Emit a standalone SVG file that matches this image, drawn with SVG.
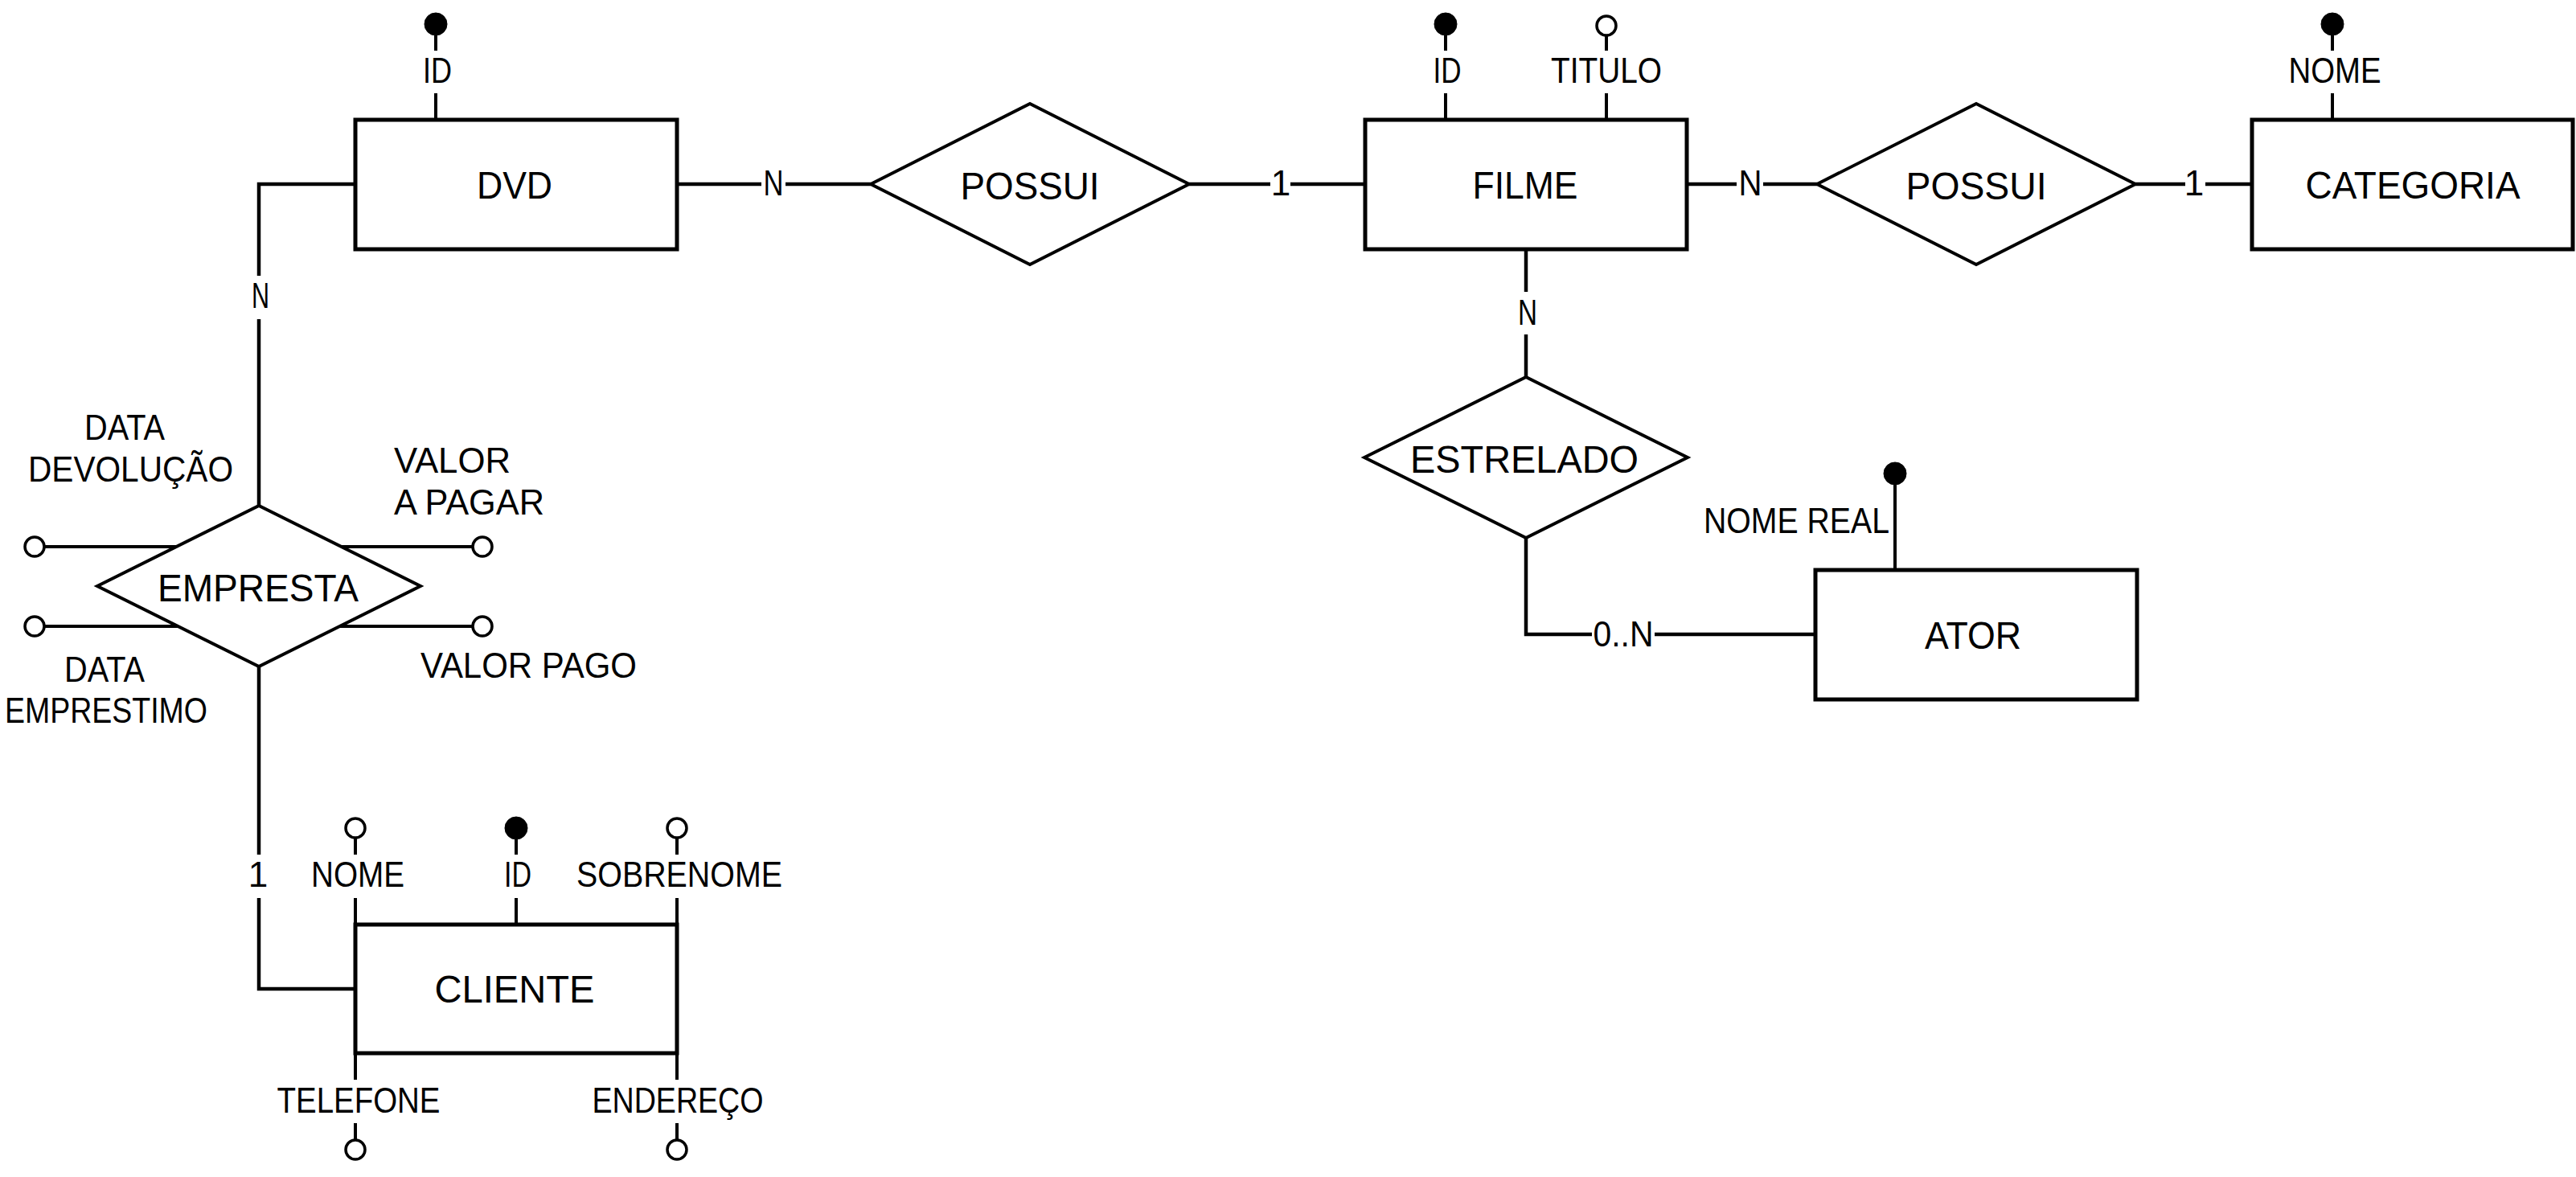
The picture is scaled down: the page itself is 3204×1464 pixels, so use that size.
<svg xmlns="http://www.w3.org/2000/svg" width="3204" height="1464" viewBox="0 0 3204 1464">
<style>
  .bg{fill:#fff}
  .ent{fill:#fff;stroke:#000;stroke-width:5}
  .rel{fill:#fff;stroke:#000;stroke-width:4;stroke-linejoin:miter}
  .con{fill:none;stroke:#000;stroke-width:4.5}
  .att{fill:none;stroke:#000;stroke-width:4}
  .key{fill:#000;stroke:#000;stroke-width:1}
  .opt{fill:#fff;stroke:#000;stroke-width:3.5}
  text{font-family:"Liberation Sans",Arial,sans-serif;fill:#000}
  .big{font-size:48px}
  .sm{font-size:44px}
</style>
<rect class="bg" x="0" y="0" width="3204" height="1464"/>

<g id="connectors">
  <line class="con" x1="842" y1="229" x2="947" y2="229"/>
  <line class="con" x1="977" y1="229" x2="1083" y2="229"/>
  <line class="con" x1="1479" y1="229" x2="1580" y2="229"/>
  <line class="con" x1="1605" y1="229" x2="1698" y2="229"/>
  <line class="con" x1="2098" y1="229" x2="2160" y2="229"/>
  <line class="con" x1="2193" y1="229" x2="2260" y2="229"/>
  <line class="con" x1="2656" y1="229" x2="2718" y2="229"/>
  <line class="con" x1="2743" y1="229" x2="2801" y2="229"/>
  <line class="con" x1="1898" y1="310" x2="1898" y2="363"/>
  <line class="con" x1="1898" y1="416" x2="1898" y2="469"/>
  <polyline class="con" points="1898,669 1898,789 1980,789"/>
  <line class="con" x1="2058" y1="789" x2="2258" y2="789"/>
  <polyline class="con" points="442,229 322,229 322,343"/>
  <line class="con" x1="322" y1="397" x2="322" y2="629"/>
  <line class="con" x1="322" y1="829" x2="322" y2="1063"/>
  <polyline class="con" points="322,1117 322,1230 442,1230"/>
  <text class="sm" x="962" y="243" text-anchor="middle" textLength="25" lengthAdjust="spacingAndGlyphs">N</text>
  <text class="sm" x="1593" y="243" text-anchor="middle">1</text>
  <text class="sm" x="2177" y="243" text-anchor="middle" textLength="29" lengthAdjust="spacingAndGlyphs">N</text>
  <text class="sm" x="2729" y="243" text-anchor="middle">1</text>
  <text class="sm" x="1900" y="404" text-anchor="middle" textLength="24" lengthAdjust="spacingAndGlyphs">N</text>
  <text class="sm" x="2019" y="804" text-anchor="middle" textLength="75" lengthAdjust="spacingAndGlyphs">0..N</text>
  <text class="sm" x="324" y="383" text-anchor="middle" textLength="22" lengthAdjust="spacingAndGlyphs">N</text>
  <text class="sm" x="321" y="1103" text-anchor="middle">1</text>
</g>

<g id="dvd">
  <rect class="ent" x="442" y="149" width="400" height="161"/>
  <text class="big" x="640" y="247" text-anchor="middle" textLength="94" lengthAdjust="spacingAndGlyphs">DVD</text>
  <line class="att" x1="542" y1="44" x2="542" y2="63"/>
  <line class="att" x1="542" y1="116" x2="542" y2="149"/>
  <circle class="key" cx="542" cy="30" r="14"/>
  <text class="sm" x="544" y="103" text-anchor="middle" textLength="36" lengthAdjust="spacingAndGlyphs">ID</text>
</g>

<g id="possui1">
  <polygon class="rel" points="1083,229 1281,129 1479,229 1281,329"/>
  <text class="big" x="1281" y="248" text-anchor="middle" textLength="173" lengthAdjust="spacingAndGlyphs">POSSUI</text>
</g>

<g id="filme">
  <rect class="ent" x="1698" y="149" width="400" height="161"/>
  <text class="big" x="1897" y="247" text-anchor="middle" textLength="131" lengthAdjust="spacingAndGlyphs">FILME</text>
  <line class="att" x1="1798" y1="44" x2="1798" y2="63"/>
  <line class="att" x1="1798" y1="116" x2="1798" y2="149"/>
  <circle class="key" cx="1798" cy="30" r="14"/>
  <text class="sm" x="1800" y="103" text-anchor="middle" textLength="35" lengthAdjust="spacingAndGlyphs">ID</text>
  <line class="att" x1="1998" y1="45" x2="1998" y2="63"/>
  <line class="att" x1="1998" y1="116" x2="1998" y2="149"/>
  <circle class="opt" cx="1998" cy="32" r="12"/>
  <text class="sm" x="1998" y="103" text-anchor="middle" textLength="138" lengthAdjust="spacingAndGlyphs">TITULO</text>
</g>

<g id="possui2">
  <polygon class="rel" points="2260,229 2458,129 2656,229 2458,329"/>
  <text class="big" x="2458" y="248" text-anchor="middle" textLength="175" lengthAdjust="spacingAndGlyphs">POSSUI</text>
</g>

<g id="categoria">
  <rect class="ent" x="2801" y="149" width="399" height="161"/>
  <text class="big" x="3001" y="247" text-anchor="middle" textLength="267" lengthAdjust="spacingAndGlyphs">CATEGORIA</text>
  <line class="att" x1="2901" y1="44" x2="2901" y2="63"/>
  <line class="att" x1="2901" y1="116" x2="2901" y2="149"/>
  <circle class="key" cx="2901" cy="30" r="14"/>
  <text class="sm" x="2904" y="103" text-anchor="middle" textLength="115" lengthAdjust="spacingAndGlyphs">NOME</text>
</g>

<g id="estrelado">
  <polygon class="rel" points="1697,569 1898,469 2099,569 1898,669"/>
  <text class="big" x="1896" y="588" text-anchor="middle" textLength="284" lengthAdjust="spacingAndGlyphs">ESTRELADO</text>
</g>

<g id="ator">
  <rect class="ent" x="2258" y="709" width="400" height="161"/>
  <text class="big" x="2454" y="807" text-anchor="middle" textLength="120" lengthAdjust="spacingAndGlyphs">ATOR</text>
  <line class="att" x1="2357" y1="603" x2="2357" y2="709"/>
  <circle class="key" cx="2357" cy="589" r="14"/>
  <text class="sm" x="2119" y="663" textLength="231" lengthAdjust="spacingAndGlyphs">NOME REAL</text>
</g>

<g id="empresta">
  <line class="att" x1="55" y1="680" x2="220" y2="680"/>
  <line class="att" x1="424" y1="680" x2="588" y2="680"/>
  <line class="att" x1="55" y1="779" x2="222" y2="779"/>
  <line class="att" x1="422" y1="779" x2="588" y2="779"/>
  <polygon class="rel" points="121,729 322,629 523,729 322,829"/>
  <text class="big" x="321" y="748" text-anchor="middle" textLength="250" lengthAdjust="spacingAndGlyphs">EMPRESTA</text>
  <circle class="opt" cx="43" cy="680" r="12"/>
  <circle class="opt" cx="600" cy="680" r="12"/>
  <circle class="opt" cx="43" cy="779" r="12"/>
  <circle class="opt" cx="600" cy="779" r="12"/>
  <text class="sm" x="105" y="547" textLength="100" lengthAdjust="spacingAndGlyphs">DATA</text>
  <text class="sm" x="35" y="599" textLength="255" lengthAdjust="spacingAndGlyphs">DEVOLUÇÃO</text>
  <text class="sm" x="490" y="588" textLength="145" lengthAdjust="spacingAndGlyphs">VALOR</text>
  <text class="sm" x="490" y="640" textLength="187" lengthAdjust="spacingAndGlyphs">A PAGAR</text>
  <text class="sm" x="80" y="848" textLength="100" lengthAdjust="spacingAndGlyphs">DATA</text>
  <text class="sm" x="6" y="899" textLength="252" lengthAdjust="spacingAndGlyphs">EMPRESTIMO</text>
  <text class="sm" x="523" y="843" textLength="269" lengthAdjust="spacingAndGlyphs">VALOR PAGO</text>
</g>

<g id="cliente">
  <rect class="ent" x="442" y="1150" width="400" height="160"/>
  <text class="big" x="640" y="1247" text-anchor="middle" textLength="199" lengthAdjust="spacingAndGlyphs">CLIENTE</text>
  <line class="att" x1="442" y1="1043" x2="442" y2="1063"/>
  <line class="att" x1="442" y1="1117" x2="442" y2="1150"/>
  <circle class="opt" cx="442" cy="1030" r="12"/>
  <text class="sm" x="445" y="1103" text-anchor="middle" textLength="116" lengthAdjust="spacingAndGlyphs">NOME</text>
  <line class="att" x1="642" y1="1044" x2="642" y2="1063"/>
  <line class="att" x1="642" y1="1117" x2="642" y2="1150"/>
  <circle class="key" cx="642" cy="1030" r="14"/>
  <text class="sm" x="644" y="1103" text-anchor="middle" textLength="34" lengthAdjust="spacingAndGlyphs">ID</text>
  <line class="att" x1="842" y1="1043" x2="842" y2="1063"/>
  <line class="att" x1="842" y1="1117" x2="842" y2="1150"/>
  <circle class="opt" cx="842" cy="1030" r="12"/>
  <text class="sm" x="845" y="1103" text-anchor="middle" textLength="256" lengthAdjust="spacingAndGlyphs">SOBRENOME</text>
  <line class="att" x1="442" y1="1310" x2="442" y2="1343"/>
  <line class="att" x1="442" y1="1397" x2="442" y2="1417"/>
  <circle class="opt" cx="442" cy="1430" r="12"/>
  <text class="sm" x="446" y="1384" text-anchor="middle" textLength="203" lengthAdjust="spacingAndGlyphs">TELEFONE</text>
  <line class="att" x1="842" y1="1310" x2="842" y2="1343"/>
  <line class="att" x1="842" y1="1397" x2="842" y2="1417"/>
  <circle class="opt" cx="842" cy="1430" r="12"/>
  <text class="sm" x="843" y="1384" text-anchor="middle" textLength="213" lengthAdjust="spacingAndGlyphs">ENDEREÇO</text>
</g>
</svg>
